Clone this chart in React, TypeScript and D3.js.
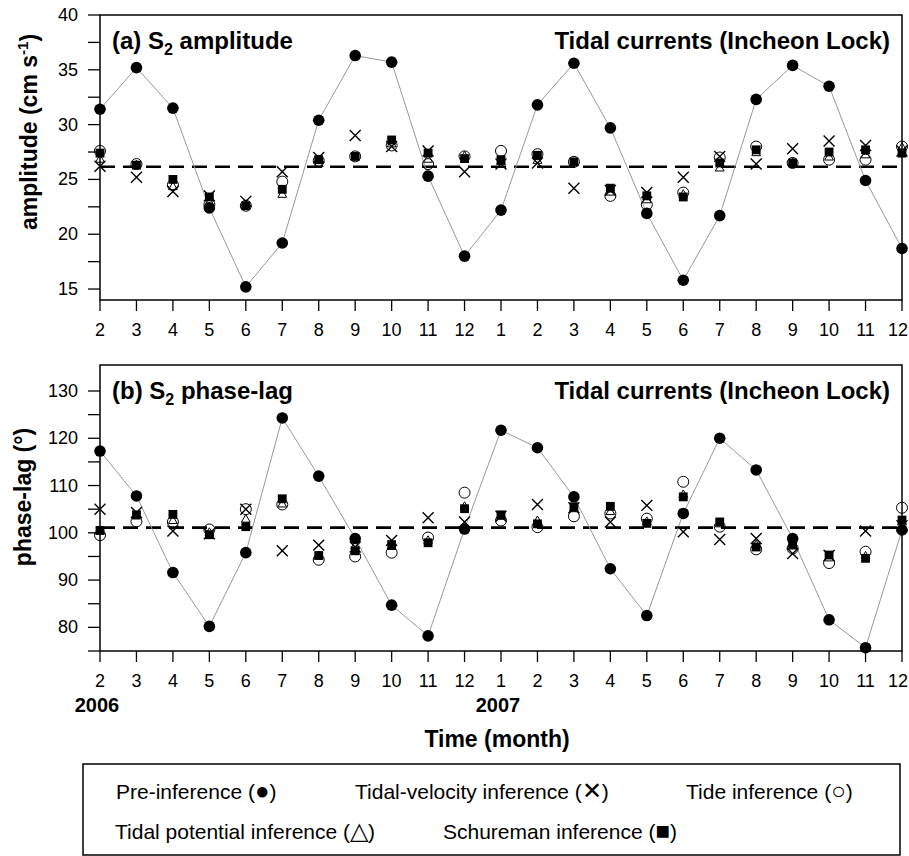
import React from "react";
import * as d3 from "d3";

// month labels along the x axis (Feb 2006 .. Dec 2007)
const months = ["2","3","4","5","6","7","8","9","10","11","12","1","2","3","4","5","6","7","8","9","10","11","12"];
const years = [{ label: "2006", idx: 0 }, { label: "2007", idx: 11 }];

// (a) S2 amplitude, cm/s
const ampPre = [31.4,35.2,31.5,22.4,15.2,19.2,30.4,36.3,35.7,25.3,18.0,22.2,31.8,35.6,29.7,21.9,15.8,21.7,32.3,35.4,33.5,24.9,18.7];
const ampVelocity = [26.2,25.2,23.9,23.5,23.0,25.7,27.0,29.0,28.0,27.6,25.7,26.4,26.5,24.2,24.0,23.8,25.2,27.1,26.4,27.8,28.5,28.1,27.6];
const ampTide = [27.6,26.4,24.5,22.7,22.6,24.8,26.7,27.1,28.1,26.4,27.1,27.6,27.3,26.6,23.5,22.7,23.8,27.0,28.0,26.5,26.8,26.8,28.0];
const ampPotential = [26.8,26.3,24.3,22.9,22.6,23.6,26.4,27.0,28.2,26.8,27.1,26.6,26.7,26.5,23.8,23.1,23.6,26.0,27.4,26.5,27.0,27.2,27.9];
const ampSchureman = [27.4,26.3,25.0,23.4,22.6,24.1,26.8,27.1,28.6,27.4,26.9,26.8,27.2,26.6,24.2,23.5,23.4,26.5,27.7,26.5,27.5,27.7,27.4];
const ampMean = 26.15;
const ampTicks = [15,17.5,20,22.5,25,27.5,30,32.5,35,37.5,40];

// (b) S2 phase-lag, degrees
const phPre = [117.3,107.8,91.6,80.2,95.8,124.3,112.0,98.8,84.7,78.2,100.8,121.7,118.0,107.6,92.4,82.5,104.1,120.0,113.3,98.8,81.6,75.7,100.6];
const phVelocity = [105.0,104.3,100.4,99.8,105.0,96.2,97.4,97.0,98.4,103.2,102.3,103.5,106.0,105.3,102.3,105.8,100.2,98.6,98.8,95.6,95.2,100.4,101.5];
const phTide = [99.5,102.4,102.3,100.7,105.0,106.0,94.3,95.0,95.8,99.0,108.5,102.6,101.2,103.5,104.1,103.0,110.8,101.3,96.5,96.7,93.6,96.0,105.3];
const phPotential = [100.3,103.5,102.5,100.0,102.8,106.0,95.0,97.2,97.0,98.3,105.5,103.4,102.5,105.0,104.4,102.3,108.0,101.8,97.4,97.6,94.6,95.0,102.2];
const phSchureman = [100.5,103.8,103.9,99.6,101.3,107.2,95.2,96.2,97.5,97.9,105.1,103.8,101.9,105.5,105.6,102.0,107.6,102.3,97.0,97.4,95.3,94.6,102.7];
const phMean = 101.1;
const phTicks = [75,80,85,90,95,100,105,110,115,120,125,130];

const FONT = "'Liberation Sans', Arial, Helvetica, sans-serif";

const x = d3.scaleLinear().domain([0, months.length - 1]).range([100, 902]);

const triPath = d3.symbol().type(d3.symbolTriangle2).size(55)() as string;
const sqPath = d3.symbol().type(d3.symbolSquare).size(78)() as string;
const xPath = d3.symbol().type(d3.symbolTimes).size(80)() as string;

type PanelProps = {
  y: d3.ScaleLinear<number, number>;
  ticks: number[];
  labelEvery: number;
  pre: number[];
  velocity: number[];
  tide: number[];
  potential: number[];
  schureman: number[];
  mean: number;
  titleLead: string;
  titleTail: string;
  titleY: number;
};

function Panel(p: PanelProps) {
  const [y0, y1] = p.y.range();
  const line = d3.line<number>().x((_, i) => x(i)).y((d) => p.y(d));
  const last = months.length - 1;
  return (
    <g>
      {/* frame */}
      <rect x={x(0)} y={y1} width={x(last) - x(0)} height={y0 - y1} fill="none" stroke="#000" strokeWidth={1.5} />
      {/* y ticks, labelled every labelEvery units */}
      {p.ticks.map((t) => (
        <g key={t}>
          <line x1={x(0) - 12} x2={x(0)} y1={p.y(t)} y2={p.y(t)} stroke="#000" strokeWidth={1.3} />
          {t % p.labelEvery === 0 ? (
            <text x={x(0) - 22} y={p.y(t) + 6} textAnchor="end" fontSize={18} fontFamily={FONT}>{t}</text>
          ) : null}
        </g>
      ))}
      {/* x ticks */}
      {months.map((m, i) => (
        <g key={i}>
          <line x1={x(i)} x2={x(i)} y1={y0} y2={y0 + 11} stroke="#000" strokeWidth={1.3} />
          <text x={i === last ? x(i) + 6 : x(i)} y={y0 + 36} textAnchor={i === last ? "end" : "middle"} fontSize={18} fontFamily={FONT}>{m}</text>
        </g>
      ))}
      {/* mean */}
      <line x1={x(0)} x2={x(last)} y1={p.y(p.mean)} y2={p.y(p.mean)} stroke="#000" strokeWidth={2.6} strokeDasharray="15 8" />
      {/* pre-inference */}
      <path d={line(p.pre) || ""} fill="none" stroke="#999" strokeWidth={1} />
      {p.pre.map((v, i) => (
        <circle key={"p" + i} cx={x(i)} cy={p.y(v)} r={5.8} fill="#000" />
      ))}
      {p.potential.map((v, i) => (
        <path key={"t" + i} d={triPath} transform={`translate(${x(i)},${p.y(v)})`} fill="none" stroke="#000" strokeWidth={1} />
      ))}
      {p.tide.map((v, i) => (
        <circle key={"o" + i} cx={x(i)} cy={p.y(v)} r={5.5} fill="none" stroke="#000" strokeWidth={1} />
      ))}
      {p.schureman.map((v, i) => (
        <path key={"s" + i} d={sqPath} transform={`translate(${x(i)},${p.y(v)})`} fill="#000" />
      ))}
      {p.velocity.map((v, i) => (
        <path key={"v" + i} d={xPath} transform={`translate(${x(i)},${p.y(v)})`} fill="none" stroke="#000" strokeWidth={1.4} />
      ))}
      {/* titles */}
      <text x={112} y={p.titleY} fontSize={24} fontWeight="bold" fontFamily={FONT}>
        {p.titleLead} S<tspan dy={6} fontSize={16}>2</tspan><tspan dy={-6}>{" " + p.titleTail}</tspan>
      </text>
      <text x={890} y={p.titleY} textAnchor="end" fontSize={24} fontWeight="bold" fontFamily={FONT}>
        Tidal currents (Incheon Lock)
      </text>
    </g>
  );
}

export default function App() {
  const yA = d3.scaleLinear().domain([14, 40]).range([300, 15]);
  const yB = d3.scaleLinear().domain([75, 135.5]).range([651, 365]);
  return (
    <svg width={909} height={856} style={{ position: "absolute", left: 0, top: 0, background: "#fff" }}>
      <rect width={909} height={856} fill="#fff" />
      <Panel y={yA} ticks={ampTicks} labelEvery={5} pre={ampPre} velocity={ampVelocity} tide={ampTide}
        potential={ampPotential} schureman={ampSchureman} mean={ampMean} titleLead="(a)" titleTail="amplitude" titleY={49} />
      <Panel y={yB} ticks={phTicks} labelEvery={10} pre={phPre} velocity={phVelocity} tide={phTide}
        potential={phPotential} schureman={phSchureman} mean={phMean} titleLead="(b)" titleTail="phase-lag" titleY={399} />

      {/* y axis titles */}
      <text transform="translate(37,132) rotate(-90)" textAnchor="middle" fontSize={23} fontWeight="bold" fontFamily={FONT}>
        amplitude (cm s<tspan dy={-9} fontSize={15}>-1</tspan><tspan dy={9}>)</tspan>
      </text>
      <text transform="translate(31,497) rotate(-90)" textAnchor="middle" fontSize={23} fontWeight="bold" fontFamily={FONT}>
        phase-lag (°)
      </text>

      {/* years and x title */}
      {years.map((yr) => (
        <text key={yr.label} x={x(yr.idx) - 3} y={712} textAnchor="middle" fontSize={20} fontWeight="bold" fontFamily={FONT}>{yr.label}</text>
      ))}
      <text x={497} y={747} textAnchor="middle" fontSize={23} fontWeight="bold" fontFamily={FONT}>Time (month)</text>

      {/* legend */}
      <rect x={83} y={764} width={817} height={91} fill="none" stroke="#000" strokeWidth={1.5} />
      <g fontSize={21} fontFamily={FONT}>
        <text x={116} y={799}>Pre-inference (<tspan fontSize={24}>●</tspan>)</text>
        <text x={355} y={799}>Tidal-velocity inference (<tspan fontSize={24}>✕</tspan>)</text>
        <text x={686} y={799}>Tide inference (<tspan fontSize={24}>○</tspan>)</text>
        <text x={115} y={839}>Tidal potential inference (<tspan fontSize={24}>△</tspan>)</text>
        <text x={443} y={839}>Schureman inference (<tspan fontSize={24}>■</tspan>)</text>
      </g>
    </svg>
  );
}
